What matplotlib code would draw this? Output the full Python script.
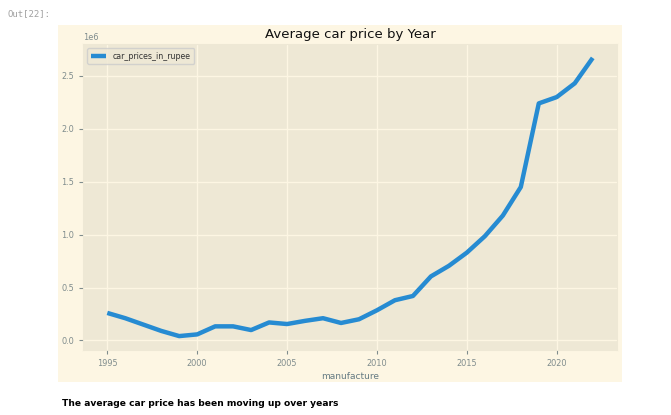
import matplotlib.pyplot as plt
import matplotlib as mpl
import numpy as np

#### Data
years = list(range(1995, 2023))
prices = [0.26, 0.21, 0.15, 0.09, 0.041, 0.057, 0.133, 0.133, 0.098, 0.17,
          0.155, 0.185, 0.21, 0.165, 0.20, 0.285, 0.38, 0.42, 0.605, 0.705,
          0.83, 0.985, 1.18, 1.45, 2.24, 2.30, 2.43, 2.67]
prices = [p * 1e6 for p in prices]
series_name = "car_prices_in_rupee"

#### Plot
plt.style.use('Solarize_Light2')

W, H = 671, 415
fig = plt.figure(figsize=(W / 100, H / 100), dpi=100)
fig.patch.set_facecolor('white')

# notebook output cell background
bg = mpl.patches.Rectangle((58 / W, 1 - 382 / H), (622 - 58) / W, (382 - 25) / H,
                           transform=fig.transFigure, facecolor='#fdf6e3',
                           edgecolor='none', zorder=-10)
fig.patches.append(bg)

ax = fig.add_axes([83 / W, 1 - 350 / H, (617 - 83) / W, (350 - 44) / H])
ax.plot(years, prices, lw=3.2, color='#268bd2', label=series_name)

ax.set_title("Average car price by Year", fontsize=9.5, color='#111111', pad=4)
ax.set_xlabel("manufacture", fontsize=6.5, color='#657b83', labelpad=3)
ax.tick_params(axis='both', labelsize=5.9, colors='#7f8c8d', length=3)
ax.yaxis.get_offset_text().set_fontsize(5.9)
ax.yaxis.get_offset_text().set_color('#7f8c8d')
ax.legend(loc='upper left', fontsize=5.7, handlelength=2.0, borderpad=0.45,
          labelcolor='#333333')

# notebook text around the chart
fig.text(8 / W, 1 - 14 / H, "Out[22]:", fontsize=6.5, color='#a0a0a0',
         family='DejaVu Sans Mono', va='center')
fig.text(62 / W, 1 - 403 / H, "The average car price has been moving up over years",
         fontsize=6.6, color='black', weight='bold', va='center')

fig.savefig('out.png', dpi=100, facecolor='white')
